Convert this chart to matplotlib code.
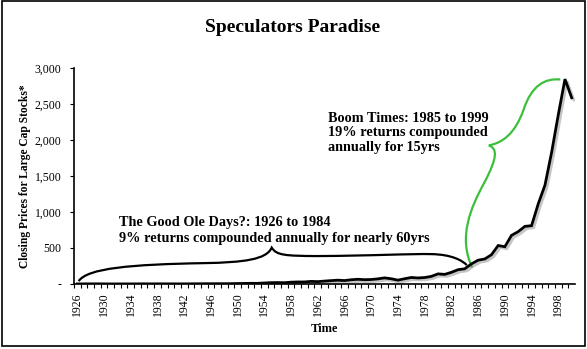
import numpy as np
import matplotlib
matplotlib.use("Agg")
import matplotlib.pyplot as plt
import matplotlib.patheffects as pe
from matplotlib.path import Path
from matplotlib.patches import PathPatch, Rectangle
from matplotlib.ticker import FuncFormatter

# year-end closing values, large cap stocks index
years = list(range(1926, 2001))
prices = [1.12, 1.54, 2.20, 2.02, 1.52, 0.86, 0.79, 1.21, 1.20, 1.77,
          2.37, 1.54, 2.02, 2.01, 1.81, 1.60, 1.93, 2.43, 2.91, 3.97,
          3.65, 3.85, 4.07, 4.83, 6.36, 7.89, 9.34, 9.24, 14.11, 18.56,
          19.78, 17.65, 25.30, 28.32, 28.46, 36.11, 32.95, 40.47, 47.14, 53.01,
          47.67, 59.10, 65.64, 60.06, 62.47, 71.41, 84.96, 72.50, 53.31, 73.14,
          90.58, 84.08, 89.59, 106.11, 140.51, 133.62, 162.22, 198.75, 211.20, 279.12,
          330.67, 347.97, 406.46, 534.46, 517.50, 675.59, 727.41, 800.08, 810.54, 1113.92,
          1370.95, 1828.33, 2350.89, 2845.63, 2586.52]

yticks = [0, 500, 1000, 1500, 2000, 2500, 3000]
xlabel_years = list(range(1926, 2001, 4))

title = "Speculators Paradise"
ylabel = "Closing Prices for Large Cap Stocks*"
xlabel = "Time"
note_old = "The Good Ole Days?: 1926 to 1984\n9% returns compounded annually for nearly 60yrs"
note_boom = "Boom Times: 1985 to 1999\n19% returns compounded\nannually for 15yrs"

# brace outlines (year, value) as cubic bezier segments
brace_old = [(1926.2, 40), (1927.5, 220), (1934, 272), (1945, 290),
             (1951, 300), (1954.3, 340), (1955.1, 505),
             (1955.8, 400), (1957, 390), (1962, 388),
             (1970, 392), (1976, 422), (1979, 415),
             (1982, 410), (1983.6, 330), (1984.3, 262)]
brace_boom = [(1985.1, 230), (1983.0, 650), (1984.8, 1050), (1987.0, 1420),
              (1988.9, 1760), (1988.9, 1880), (1987.6, 1925),
              (1989.6, 1960), (1991.5, 2080), (1992.8, 2420),
              (1994.0, 2760), (1996.0, 2860), (1998.3, 2840)]

plt.rcParams['font.family'] = ['Liberation Serif', 'DejaVu Serif']

fig = plt.figure(figsize=(5.87, 3.49), dpi=100)
ax = fig.add_axes([74 / 587, 1 - 284 / 349, 501 / 587, 216 / 349])

ax.plot(years, prices, color='black', lw=2.0, solid_joinstyle='miter',
        path_effects=[pe.SimpleLineShadow(offset=(1.5, -1.5), shadow_color='gray', alpha=0.45),
                      pe.Normal()])


def brace(pts, color):
    codes = [Path.MOVETO] + [Path.CURVE4] * (len(pts) - 1)
    ax.add_patch(PathPatch(Path(pts, codes), fill=False, edgecolor=color, lw=1.6))


brace(brace_old, 'black')
brace(brace_boom, '#3cc03c')

ax.text(1932.3, 743, note_old, fontsize=10.3, fontweight='bold', va='center',
        linespacing=1.25)
ax.text(1963.5, 2100, note_boom, fontsize=10.3, fontweight='bold', va='center',
        linespacing=1.13)

ax.set_xlim(1925.5, 2000.5)
ax.set_ylim(0, 3000)
ax.set_yticks(yticks)
ax.yaxis.set_major_formatter(FuncFormatter(lambda v, p: '-' if v == 0 else f'{int(v):,}'))
ax.set_xticks([y + 0.5 for y in years[:-1]] + [1925.5], minor=True)
ax.set_xticks(xlabel_years)
ax.set_xticklabels([str(y) for y in xlabel_years], rotation=90, fontsize=8.5)
ax.tick_params(axis='x', which='major', length=0, pad=6)
ax.tick_params(axis='x', which='minor', length=3, width=0.8)
ax.tick_params(axis='y', length=3, width=0.8, labelsize=8.5, pad=6)
for s in ['top', 'right']:
    ax.spines[s].set_visible(False)
for s in ['left', 'bottom']:
    ax.spines[s].set_linewidth(1.2)

ax.set_ylabel(ylabel, fontsize=8.3, fontweight='bold', labelpad=3)
ax.set_xlabel(xlabel, fontsize=9, fontweight='bold', labelpad=5)
fig.text(293 / 587, 1 - 27 / 349, title, fontsize=14, fontweight='bold',
         ha='center', va='center')

fig.patches.append(Rectangle((2 / 587, 3 / 349), 583 / 587, 345 / 349, fill=False,
                             edgecolor='black', lw=1.2, transform=fig.transFigure))

fig.savefig('out.png', dpi=100)
